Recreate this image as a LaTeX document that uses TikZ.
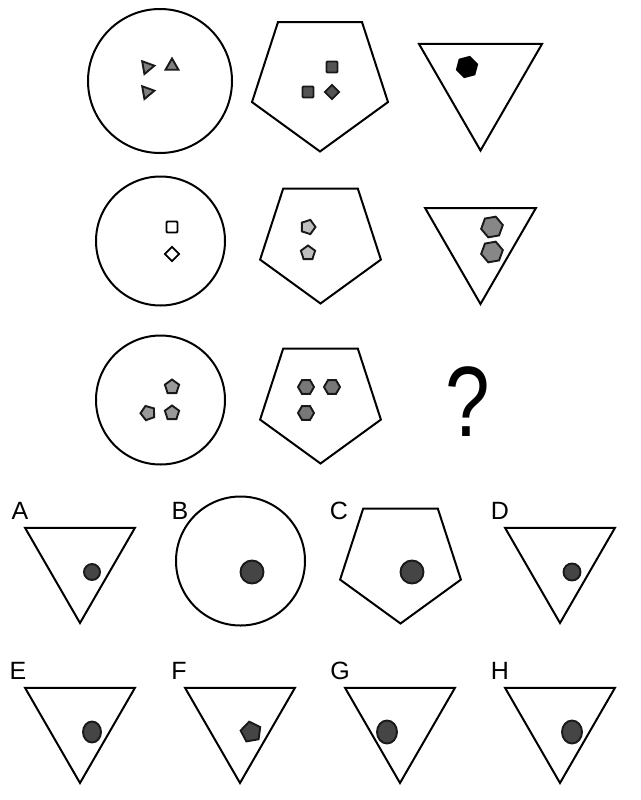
\documentclass[tikz,border=0pt]{standalone}
\usepackage{fontspec}
\setmainfont{Liberation Sans}
\usetikzlibrary{shapes.geometric}

\begin{document}
\begin{tikzpicture}[
    x=1pt, y=-1pt,
    frame/.style={draw, line width=2pt, inner sep=0pt, outer sep=0pt},
    ring/.style={frame, circle, minimum size=#1},
    penta/.style={frame, regular polygon, regular polygon sides=5,
        shape border rotate=180, minimum size=#1},
    trig/.style={frame, regular polygon, regular polygon sides=3,
        shape border rotate=180, minimum size=#1},
    chip/.style={draw=black!90, line width=1.9pt, inner sep=0pt},
    smalltri/.style={chip, regular polygon, regular polygon sides=3,
        minimum size=15, fill=black!50},
    box/.style={chip, rectangle, minimum size=11, rounded corners=1pt},
    gem/.style={chip, diamond, minimum size=15},
    pent/.style={chip, regular polygon, regular polygon sides=5, minimum size=15},
    hexa/.style={chip, regular polygon, regular polygon sides=6, minimum size=#1},
    dot/.style={chip, circle, fill=black!73, minimum size=#1},
    oval/.style={chip, ellipse, fill=black!73},
    lbl/.style={inner sep=0pt, font=\fontsize{25}{25}\selectfont}
]
\useasboundingbox (0,0) rectangle (640,800);

% fila 1
\node[ring=144] (ringA) at (160,81) {};
\node[smalltri, shape border rotate=-80] (a1) at (147,67) {};
\node[smalltri] (a2) at (172,66) {};
\node[smalltri, shape border rotate=-80] (a3) at (147,92) {};
\node[penta=143] (pentA) at (320,80) {};
\node[box, fill=black!67] (a4) at (332,67) {};
\node[box, fill=black!67] (a5) at (308,92) {};
\node[gem, fill=black!67] (a6) at (332,92) {};
\node[trig=142] (trigA) at (480.5,79.5) {};
\node[hexa=21, fill=black, draw=black, shape border rotate=15] (a7) at (467,67) {};

% fila 2
\node[ring=129] (ringB) at (160.5,241) {};
\node[box, fill=white, draw=black] (b1) at (172,227) {};
\node[gem, fill=white, draw=black] (b2) at (172,254) {};
\node[penta=127] (pentB) at (320.5,240) {};
\node[pent, fill=black!25, shape border rotate=-90] (b3) at (308,227) {};
\node[pent, fill=black!25] (b4) at (308,253) {};
\node[trig=128] (trigB) at (480.5,240) {};
\node[hexa=22, fill=black!47, shape border rotate=10] (b5) at (492,227) {};
\node[hexa=22, fill=black!47, shape border rotate=10] (b6) at (492,252) {};

% fila 3
\node[ring=129] (ringC) at (160.5,400) {};
\node[pent, fill=black!40] (c1) at (172,387) {};
\node[pent, fill=black!40, shape border rotate=20] (c2) at (148,413) {};
\node[pent, fill=black!40] (c3) at (172,413) {};
\node[penta=127] (pentC) at (320.5,400) {};
\node[hexa=16, fill=black!53] (c4) at (306,387) {};
\node[hexa=16, fill=black!53] (c5) at (332,387) {};
\node[hexa=16, fill=black!53] (c6) at (306,413) {};
\node[inner sep=0pt, xscale=0.8, font=\fontsize{100}{100}\selectfont] (quest) at (468,402) {?};

% opciones A-D
\node[lbl] (labA) at (20,511) {A};
\node[trig=127] (optA) at (80,559.5) {};
\node[dot=16] (dA) at (92,572) {};
\node[lbl] (labB) at (180,511) {B};
\node[ring=129] (optB) at (240.5,561) {};
\node[dot=23] (dB) at (252,572) {};
\node[lbl] (labC) at (339,511) {C};
\node[penta=127] (optC) at (400.5,560) {};
\node[dot=23] (dC) at (412,572) {};
\node[lbl] (labD) at (500,511) {D};
\node[trig=127] (optD) at (560,559.5) {};
\node[dot=17] (dD) at (572,572) {};

% opciones E-H
\node[lbl] (labE) at (18,671) {E};
\node[trig=127] (optE) at (80,719.5) {};
\node[oval, minimum width=18, minimum height=21] (dE) at (92,732) {};
\node[lbl] (labF) at (179,671) {F};
\node[trig=127] (optF) at (240,719.5) {};
\node[pent, fill=black!73, minimum size=21, shape border rotate=10] (dF) at (251,732) {};
\node[lbl] (labG) at (340,671) {G};
\node[trig=127] (optG) at (400,719.5) {};
\node[oval, minimum width=20, minimum height=23] (dG) at (387,732) {};
\node[lbl] (labH) at (500,671) {H};
\node[trig=127] (optH) at (560,719.5) {};
\node[oval, minimum width=20, minimum height=23] (dH) at (572,732) {};

\end{tikzpicture}
\end{document}
